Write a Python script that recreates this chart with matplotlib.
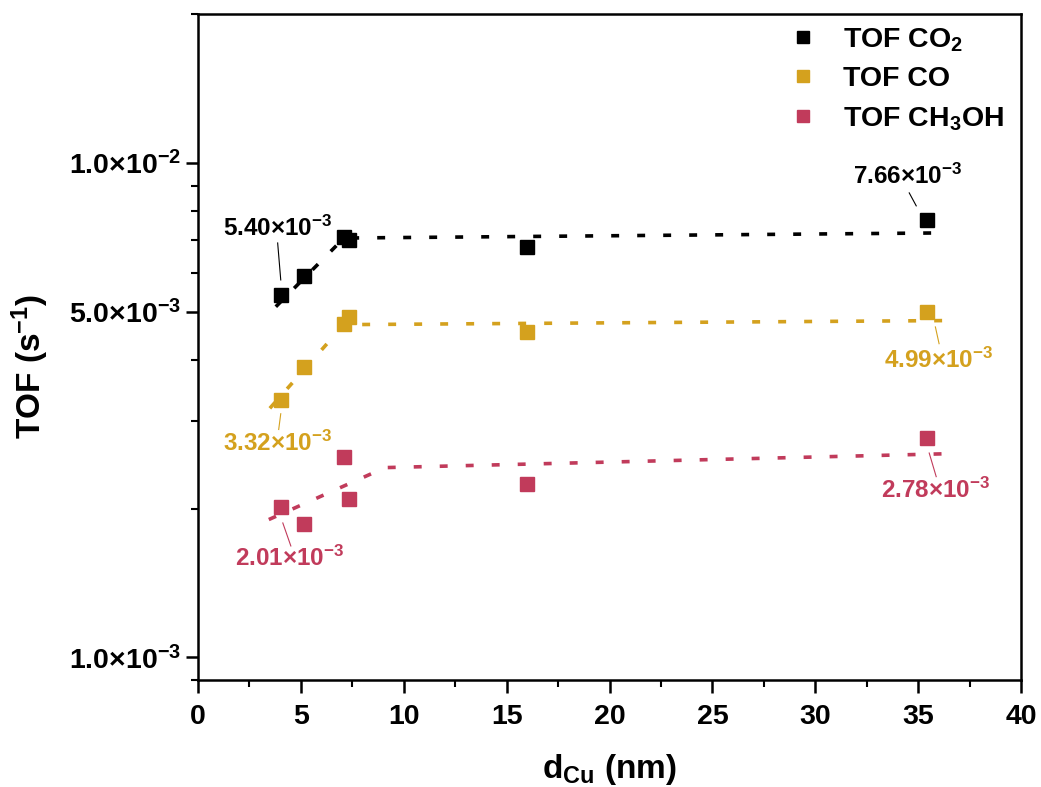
#!/usr/bin/env python3

import matplotlib
matplotlib.use('Agg')
import matplotlib.pyplot as plt
import matplotlib.ticker as mticker
import numpy as np

plt.rcParams['font.family'] = ['Liberation Sans', 'DejaVu Sans']
plt.rcParams['font.weight'] = 'bold'
plt.rcParams['mathtext.fontset'] = 'custom'
plt.rcParams['mathtext.rm'] = 'Liberation Sans:bold'
plt.rcParams['mathtext.bf'] = 'Liberation Sans:bold'
plt.rcParams['mathtext.it'] = 'Liberation Sans:bold'
plt.rcParams['mathtext.default'] = 'regular'

# particle size (nm) and turnover frequencies (s^-1)
d_cu      = [4.05, 5.17, 7.10, 7.34, 16.0, 35.43]
tof_co2   = [5.40e-3, 5.91e-3, 7.10e-3, 6.98e-3, 6.76e-3, 7.66e-3]
tof_co    = [3.32e-3, 3.87e-3, 4.73e-3, 4.89e-3, 4.56e-3, 4.99e-3]
tof_ch3oh = [2.01e-3, 1.86e-3, 2.54e-3, 2.09e-3, 2.24e-3, 2.78e-3]

# piecewise fits (dashed)
fit_x_co2   = [3.79, 7.1, 36.16]
fit_co2     = [5.12e-3, 7.05e-3, 7.22e-3]
fit_x_co    = [3.5, 7.1, 36.45]
fit_co      = [3.19e-3, 4.71e-3, 4.80e-3]
fit_x_ch3oh = [3.45, 9.1, 36.16]
fit_ch3oh   = [1.90e-3, 2.42e-3, 2.58e-3]

labels = ['TOF CO$_2$', 'TOF CO', 'TOF CH$_3$OH']
colors = ['#000000', '#D4A11E', '#C13B5B']

fig = plt.figure(figsize=(10.41, 7.87), dpi=100)
ax = fig.add_axes([0.190, 0.136, 0.791, 0.846])

series = [(tof_co2, fit_x_co2, fit_co2), (tof_co, fit_x_co, fit_co),
          (tof_ch3oh, fit_x_ch3oh, fit_ch3oh)]
for (vals, fx, fy), lab, c in zip(series, labels, colors):
    ax.plot(fx, fy, linestyle=(0, (2.2, 5)), color=c, lw=2.6, zorder=2)
    ax.plot(d_cu, vals, linestyle='none', marker='s', ms=10.5, color=c,
            label=lab, zorder=3)

# value labels with leader lines: (text x, text y, text, leader x, leader y, colour idx)
notes = [
    (3.89, 7.36e-3, r'5.40$\times$10$^{-3}$', [3.88, 4.03], [6.89e-3, 5.80e-3], 0),
    (34.5, 9.41e-3, r'7.66$\times$10$^{-3}$', [34.56, 34.9], [8.70e-3, 8.19e-3], 0),
    (3.89, 2.71e-3, r'3.32$\times$10$^{-3}$', [4.03, 3.93], [3.11e-3, 2.89e-3], 1),
    (35.97, 3.98e-3, r'4.99$\times$10$^{-3}$', [35.83, 36.01], [4.66e-3, 4.31e-3], 1),
    (4.47, 1.585e-3, r'2.01$\times$10$^{-3}$', [4.13, 4.52], [1.87e-3, 1.68e-3], 2),
    (35.82, 2.18e-3, r'2.78$\times$10$^{-3}$', [35.53, 35.87], [2.59e-3, 2.32e-3], 2),
]
for tx, ty, s, lx, ly, ci in notes:
    ax.plot(lx, ly, color=colors[ci], lw=0.8, zorder=2)
    ax.text(tx, ty, s, color=colors[ci], fontsize=17.5, fontweight='bold',
            ha='center', va='center')

ax.set_yscale('log')
ax.set_xlim(0, 40)
ax.set_ylim(9e-4, 2e-2)

ax.xaxis.set_major_locator(mticker.MultipleLocator(5))
ax.xaxis.set_minor_locator(mticker.MultipleLocator(2.5))
ax.yaxis.set_major_locator(mticker.FixedLocator([1e-3, 5e-3, 1e-2]))
ax.yaxis.set_major_formatter(mticker.FixedFormatter(
    [r'1.0$\times$10$^{-3}$', r'5.0$\times$10$^{-3}$', r'1.0$\times$10$^{-2}$']))
minor = [9e-4] + [k * 1e-3 for k in (2, 3, 4, 6, 7, 8, 9)] + [2e-2]
ax.yaxis.set_minor_locator(mticker.FixedLocator(minor))
ax.yaxis.set_minor_formatter(mticker.NullFormatter())

ax.tick_params(which='major', direction='out', length=9, width=1.8, labelsize=20.5)
ax.tick_params(axis='y', which='major', pad=3)
ax.tick_params(axis='x', which='major', pad=8)
ax.tick_params(which='minor', direction='out', length=5, width=1.5)
for sp in ax.spines.values():
    sp.set_linewidth(1.8)

ax.set_xlabel(r'd$_{Cu}$ (nm)', fontsize=24, fontweight='bold', labelpad=16)
ax.set_ylabel(r'TOF (s$^{-1}$)', fontsize=24, fontweight='bold')
ax.yaxis.set_label_coords(-0.178, 0.47)

ax.legend(loc='upper right', bbox_to_anchor=(1.003, 1.012), frameon=False, fontsize=20.5,
          handlelength=0.8, handletextpad=1.0, labelspacing=0.45, borderaxespad=0.3,
          markerscale=0.85)

fig.savefig('out.png', dpi=100)
